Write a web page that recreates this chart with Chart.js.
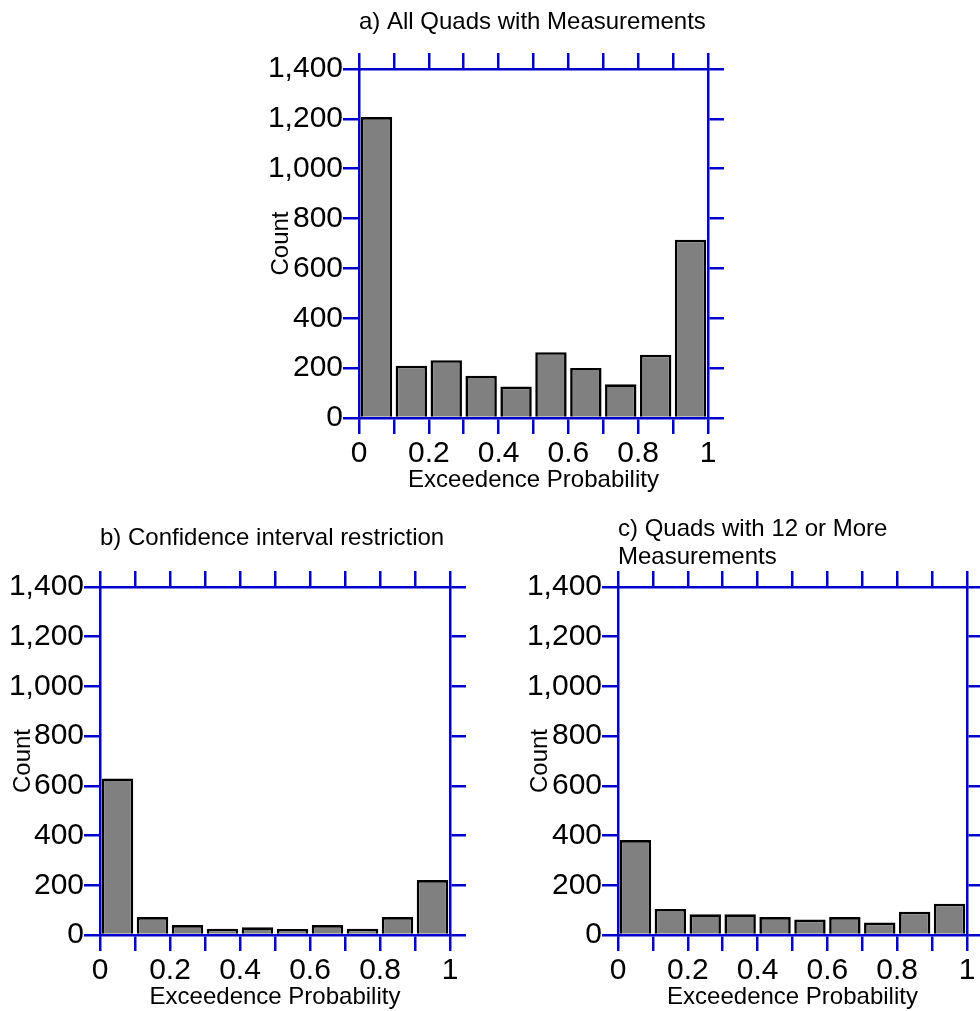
<!DOCTYPE html>
<html><head><meta charset="utf-8">
<script src="https://cdn.jsdelivr.net/npm/chart.js@4.4.1/dist/chart.umd.min.js"></script>
<style>
html,body{margin:0;padding:0;background:#fff;}
body{width:980px;height:1011px;position:relative;overflow:hidden;}
canvas{position:absolute;}
</style></head><body>
<canvas id="ca" width="490" height="500" style="left:250px;top:0px"></canvas>
<canvas id="cb" width="490" height="501" style="left:0px;top:510px"></canvas>
<canvas id="cc" width="480" height="501" style="left:500px;top:510px"></canvas>
<script>
// ---- data ----
const binCenters = [0.05, 0.15, 0.25, 0.35, 0.45, 0.55, 0.65, 0.75, 0.85, 0.95];
const countsA = [1207, 210, 232, 169, 126, 264, 201, 135, 254, 715];
const countsB = [630, 72, 40, 25, 31, 24, 40, 25, 72, 221];
const countsC = [382, 105, 83, 83, 72, 62, 72, 50, 94, 126];
const titleA = 'a) All Quads with Measurements';
const titleB = 'b) Confidence interval restriction';
const titleC = ['c) Quads with 12 or More', 'Measurements'];
const xTitle = 'Exceedence Probability';
const yTitle = 'Count';
const xRange = [0, 1, 0.1];
const yRange = [0, 1400, 200];

Chart.defaults.color = '#000';
Chart.defaults.font.family = "'Liberation Sans', Arial, sans-serif";

const BLUE = '#0000cc';
const TICK_FONT = {size: 30, weight: 'normal'};
const TITLE_FONT = {size: 24, weight: 'normal', lineHeight: 1.15};

function gridOpts() {
  return {drawOnChartArea: false, drawTicks: true, tickLength: 16,
          color: BLUE, lineWidth: 2.5, tickColor: BLUE, tickWidth: 2.5, offset: false, z: 1};
}
function borderOpts() { return {display: true, color: BLUE, width: 2.5, z: 1}; }

function makeChart(id, counts, title, L) {
  const ctx = document.getElementById(id);
  return new Chart(ctx, {
    type: 'bar',
    data: {
      datasets: [{
        data: binCenters.map((x, i) => ({x: x, y: counts[i]})),
        backgroundColor: '#808080',
        borderColor: '#000000',
        borderWidth: 2.6,
        barPercentage: 0.9,
        categoryPercentage: 1.0,
        xAxisID: 'x', yAxisID: 'y'
      }]
    },
    options: {
      responsive: false,
      animation: false,
      devicePixelRatio: 1,
      layout: {padding: 0},
      plugins: {
        legend: {display: false},
        tooltip: {enabled: false},
        title: {
          display: true, text: title, align: 'start', fullSize: false,
          font: TITLE_FONT, color: '#000',
          padding: {top: L.tTop, bottom: L.tBottom}
        }
      },
      scales: {
        x: {
          type: 'linear', axis: 'x', position: 'bottom', offset: false,
          min: xRange[0], max: xRange[1],
          grid: gridOpts(), border: borderOpts(),
          ticks: {
            stepSize: xRange[2], autoSkip: false, maxRotation: 0, minRotation: 0,
            font: TICK_FONT, color: '#000', padding: L.xPad,
            callback: (v) => { const k = Math.round(v * 10); return k % 2 === 0 ? String(k / 10) : ''; }
          },
          title: {display: true, text: xTitle, font: TITLE_FONT, color: '#000',
                  padding: {top: 0, bottom: L.xtBottom}},
          afterFit: (s) => { s.height = L.xH; }
        },
        x2: {
          type: 'linear', axis: 'x', position: 'top', offset: false,
          min: xRange[0], max: xRange[1],
          grid: gridOpts(), border: borderOpts(),
          ticks: {stepSize: xRange[2], autoSkip: false, display: false, maxRotation: 0},
          afterFit: (s) => { s.height = 16; }
        },
        y: {
          type: 'linear', axis: 'y', position: 'left',
          min: yRange[0], max: yRange[1],
          grid: gridOpts(), border: borderOpts(),
          ticks: {
            stepSize: yRange[2], autoSkip: false, font: TICK_FONT, color: '#000', padding: 0,
            callback: (v) => Number(v).toLocaleString('en-US')
          },
          title: {display: true, text: yTitle, font: TITLE_FONT, color: '#000',
                  padding: {top: L.ytTop, bottom: 0}},
          afterFit: (s) => { s.width = L.yW; }
        },
        y2: {
          type: 'linear', axis: 'y', position: 'right',
          min: yRange[0], max: yRange[1],
          grid: gridOpts(), border: borderOpts(),
          ticks: {stepSize: yRange[2], autoSkip: false, display: false},
          afterFit: (s) => { s.width = L.y2W; }
        }
      }
    }
  });
}

makeChart('ca', countsA, titleA, {yW: 109, y2W: 32, tTop: 8.7, tBottom: 16.7, xH: 82, xPad: 2, xtBottom: 5.5, ytTop: 17.7});
makeChart('cb', countsB, titleB, {yW: 100, y2W: 40, tTop: 14.5, tBottom: 18.9, xH: 76, xPad: 2, xtBottom: 0, ytTop: 9.5});
makeChart('cc', countsC, titleC, {yW: 118, y2W: 13, tTop: 5.8, tBottom: 0, xH: 76, xPad: 2, xtBottom: 0, ytTop: 27});
</script>
</body></html>
